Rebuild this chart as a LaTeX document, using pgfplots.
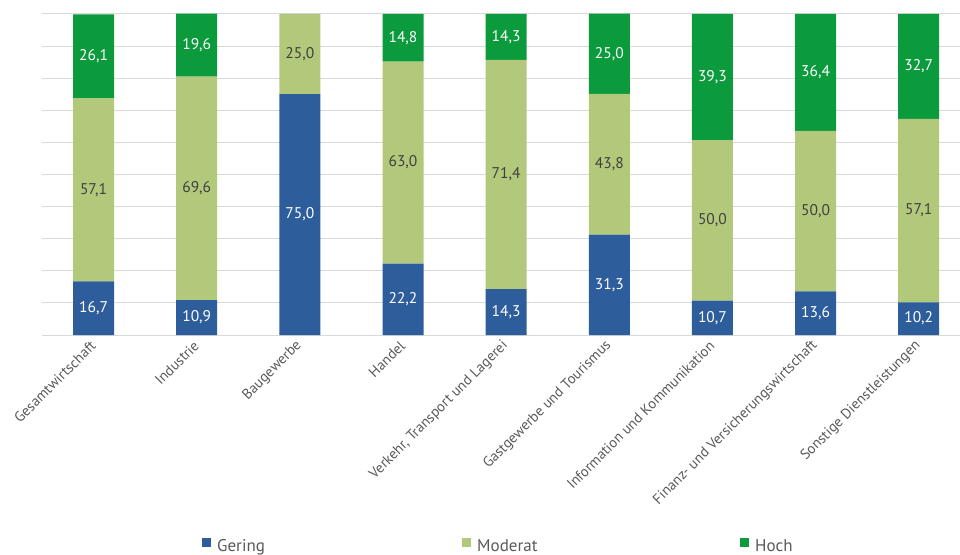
\documentclass[border=0pt]{standalone}
\usepackage{pgfplots}
\pgfplotsset{compat=1.18}
\usepackage{fontspec}
\setmainfont{PT Sans}
\definecolor{cBlue}{HTML}{2E5D9B}
\definecolor{cLight}{HTML}{B2C97B}
\definecolor{cDark}{HTML}{0B9A3C}
\definecolor{cGrid}{HTML}{D9D9D9}
\definecolor{cText}{HTML}{595959}
\pgfplotstableread{
x g m h
0 16.7 57.1 26.1
1 10.9 69.6 19.6
2 75.0 25.0 0
3 22.2 63.0 14.8
4 14.3 71.4 14.3
5 31.3 43.8 25.0
6 10.7 50.0 39.3
7 13.6 50.0 36.4
8 10.2 57.1 32.7
}\datatable
\begin{document}
\begin{tikzpicture}
\begin{axis}[
  at={(42pt,219pt)}, anchor=south west,
  scale only axis, width=918pt, height=321pt,
  ybar stacked, bar width=41pt,
  xmin=-0.5, xmax=8.4, ymin=0, ymax=100,
  xtick={0,...,8},
  xticklabels={Gesamtwirtschaft,Industrie,Baugewerbe,Handel,{Verkehr, Transport und Lagerei},Gastgewerbe und Tourismus,Information und Kommunikation,Finanz- und Versicherungswirtschaft,Sonstige Dienstleistungen},
  xticklabel style={yshift=-6pt, xshift=2pt, rotate=45, anchor=east, font=\fontsize{14.5}{16}\selectfont, text=cText},
  ytick={0,10,...,100}, yticklabels={},
  ymajorgrids, grid style={cGrid, line width=1pt},
  axis line style={draw=none},
  major tick length=0pt,
  clip=false,
  visualization depends on={rawy \as \rawy},
  nodes near coords={\ifdim\rawy pt<0.05pt\else\pgfmathprintnumber{\rawy}\fi},
  /pgf/number format/.cd, fixed, fixed zerofill, precision=1, use comma, assume math mode=true,
  /pgfplots/.cd,
  every node near coord/.append style={anchor=center, font=\fontsize{15.5}{17}\selectfont},
  legend columns=3,
  legend style={at={(axis description cs:0.1743,-0.679)}, anchor=south west, draw=none, fill=none, inner sep=0pt,
    font=\fontsize{17}{19}\selectfont, text=cText, nodes={inner sep=0pt},
    /tikz/column 2/.append style={text width=245pt},
    /tikz/column 4/.append style={text width=263pt},
    /tikz/every odd column/.append style={column sep=6pt}},
  legend image code/.code={\fill[#1] (0pt,-1pt) rectangle (9pt,8pt);},
]
\addplot[fill=cBlue, draw=none, every node near coord/.append style={text=white}] table[x=x, y=g] {\datatable};
\addlegendentry{Gering}
\addplot[fill=cLight, draw=none, every node near coord/.append style={text=black!75}] table[x=x, y=m] {\datatable};
\addlegendentry{Moderat}
\addplot[fill=cDark, draw=none, every node near coord/.append style={text=white}] table[x=x, y=h] {\datatable};
\addlegendentry{Hoch}
\end{axis}
\pgfresetboundingbox
\useasboundingbox (0,0) rectangle (960pt,554pt);
\end{tikzpicture}
\end{document}
